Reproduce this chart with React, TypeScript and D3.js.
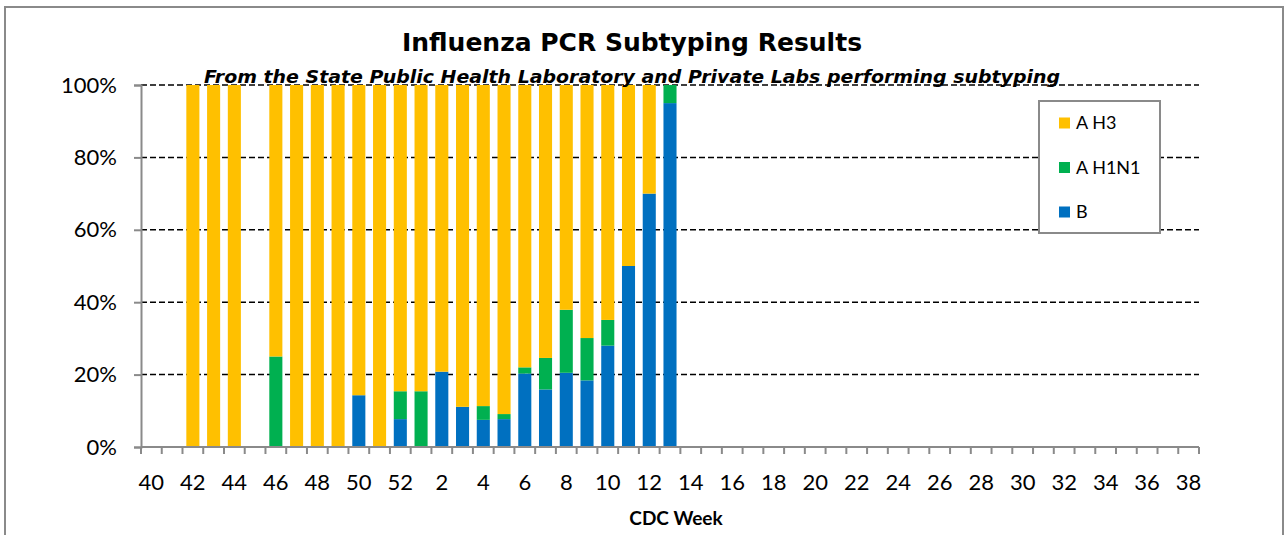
import React, { useEffect, useRef } from 'react';
import * as d3 from 'd3';

// CDC weeks shown on the x axis (season runs week 40 through week 38)
const weeks = [
  '40', '41', '42', '43', '44', '45', '46', '47', '48', '49', '50', '51', '52',
  '1', '2', '3', '4', '5', '6', '7', '8', '9', '10', '11', '12', '13', '14', '15',
  '16', '17', '18', '19', '20', '21', '22', '23', '24', '25', '26', '27', '28',
  '29', '30', '31', '32', '33', '34', '35', '36', '37', '38'
];

// only every other week gets a label
const weekLabels = [
  '40', '42', '44', '46', '48', '50', '52', '2', '4', '6', '8', '10', '12', '14',
  '16', '18', '20', '22', '24', '26', '28', '30', '32', '34', '36', '38'
];

// percent of subtyped specimens, weeks 40..13 (later weeks have no data yet)
const pctB = [
  0, 0, 0, 0, 0, 0, 0, 0, 0, 0, 14.3, 0, 7.7,
  0, 20.8, 11.1, 7.5, 7.7, 20.3, 15.9, 20.5, 18.4, 28, 50, 70, 95
];
const pctH1N1 = [
  0, 0, 0, 0, 0, 0, 25, 0, 0, 0, 0, 0, 7.7,
  15.4, 0, 0, 3.8, 1.4, 1.7, 8.7, 17.4, 11.7, 7.1, 0, 0, 5
];
const pctH3 = [
  0, 0, 100, 100, 100, 0, 75, 100, 100, 100, 85.7, 100, 84.6,
  84.6, 79.2, 88.9, 88.7, 90.9, 78, 75.4, 62.1, 69.9, 64.9, 50, 30, 0
];

const yTicks = [0, 20, 40, 60, 80, 100];

const seriesKeys = ['B', 'A H1N1', 'A H3'];
const legendKeys = ['A H3', 'A H1N1', 'B'];
const colors = { 'A H3': '#FFC000', 'A H1N1': '#00B050', 'B': '#0070C0' };

export default function App() {
  const svgRef = useRef(null);

  const width = 1286;
  const height = 535;
  const margin = { top: 85, right: 87, bottom: 88, left: 141 };
  const innerWidth = width - margin.left - margin.right;
  const innerHeight = height - margin.top - margin.bottom;

  useEffect(() => {
    const svg = d3.select(svgRef.current);
    svg.selectAll('*').remove();

    // chart frame
    svg.append('rect')
      .attr('x', 5).attr('y', 7)
      .attr('width', 1278).attr('height', 540)
      .attr('fill', '#fff')
      .attr('stroke', '#8a8a8a')
      .attr('stroke-width', 2);

    svg.append('text')
      .attr('x', 632).attr('y', 51)
      .attr('text-anchor', 'middle')
      .style('font-family', 'DejaVu Sans')
      .style('font-weight', 'bold')
      .style('font-size', '25px')
      .text('Influenza PCR Subtyping Results');

    const g = svg.append('g')
      .attr('transform', `translate(${margin.left}, ${margin.top})`);

    const x = d3.scaleBand()
      .domain(weeks)
      .range([0, innerWidth])
      .paddingInner(0.37)
      .paddingOuter(0.185);

    const y = d3.scaleLinear()
      .domain([0, 100])
      .range([innerHeight, 0]);

    // dashed gridlines
    g.selectAll('.grid')
      .data(yTicks.filter(d => d > 0))
      .enter()
      .append('line')
      .attr('x1', 0).attr('x2', innerWidth)
      .attr('y1', d => y(d)).attr('y2', d => y(d))
      .attr('stroke', '#000')
      .attr('stroke-width', 1.5)
      .attr('stroke-dasharray', '6,3');

    // subtitle sits on top of the 100% gridline
    svg.append('text')
      .attr('x', 632).attr('y', 83)
      .attr('text-anchor', 'middle')
      .attr('textLength', 856)
      .attr('lengthAdjust', 'spacingAndGlyphs')
      .style('font-family', 'DejaVu Sans')
      .style('font-weight', 'bold')
      .style('font-style', 'italic')
      .style('font-size', '17px')
      .text('From the State Public Health Laboratory and Private Labs performing subtyping');

    // stacked bars
    const table = weeks.map((w, i) => ({
      week: w,
      'B': pctB[i] || 0,
      'A H1N1': pctH1N1[i] || 0,
      'A H3': pctH3[i] || 0
    }));
    const stacked = d3.stack().keys(seriesKeys)(table);

    g.append('g')
      .selectAll('g')
      .data(stacked)
      .enter()
      .append('g')
      .attr('fill', d => colors[d.key])
      .selectAll('rect')
      .data(d => d.filter(p => p[1] - p[0] > 0))
      .enter()
      .append('rect')
      .attr('x', d => x(d.data.week))
      .attr('y', d => y(d[1]))
      .attr('width', x.bandwidth())
      .attr('height', d => y(d[0]) - y(d[1]));

    // y axis
    const yAxisG = g.append('g')
      .call(d3.axisLeft(y).tickValues(yTicks).tickFormat(d => d + '%').tickSize(7).tickPadding(17));
    yAxisG.select('.domain').attr('stroke', '#8a8a8a').attr('stroke-width', 2);
    yAxisG.selectAll('.tick line').attr('stroke', '#8a8a8a').attr('stroke-width', 2);
    yAxisG.selectAll('.tick text')
      .attr('fill', '#000')
      .style('font-family', 'Lato')
      .style('font-size', '22px');

    // x axis: tick marks at category boundaries
    const step = x.step();
    const edge = (step - x.bandwidth()) / 2;
    const xAxisG = g.append('g').attr('transform', `translate(0, ${innerHeight})`);
    xAxisG.append('line')
      .attr('x1', 0).attr('x2', innerWidth)
      .attr('stroke', '#8a8a8a').attr('stroke-width', 2);
    xAxisG.selectAll('.xtick')
      .data(weeks.concat(['end']))
      .enter()
      .append('line')
      .attr('x1', (d, i) => i < weeks.length ? x(d) - edge : x(weeks[weeks.length - 1]) + x.bandwidth() + edge)
      .attr('x2', (d, i) => i < weeks.length ? x(d) - edge : x(weeks[weeks.length - 1]) + x.bandwidth() + edge)
      .attr('y1', 0).attr('y2', 7)
      .attr('stroke', '#8a8a8a').attr('stroke-width', 2);
    xAxisG.selectAll('.xlabel')
      .data(weekLabels)
      .enter()
      .append('text')
      .attr('x', d => x(d) + x.bandwidth() / 2)
      .attr('y', 43)
      .attr('text-anchor', 'middle')
      .style('font-family', 'Lato')
      .style('font-size', '22px')
      .text(d => d);

    xAxisG.append('text')
      .attr('x', innerWidth / 2 + 6)
      .attr('y', 78)
      .attr('text-anchor', 'middle')
      .style('font-family', 'Lato')
      .style('font-weight', 'bold')
      .style('font-size', '19px')
      .text('CDC Week');

    // legend
    const legend = svg.append('g').attr('transform', 'translate(1039, 101)');
    legend.append('rect')
      .attr('width', 121).attr('height', 132)
      .attr('fill', '#fff')
      .attr('stroke', '#8a8a8a')
      .attr('stroke-width', 2);
    legendKeys.forEach((k, i) => {
      const ly = 22 + i * 44.5;
      legend.append('rect')
        .attr('x', 20).attr('y', ly - 5.5)
        .attr('width', 11).attr('height', 11)
        .attr('fill', colors[k]);
      legend.append('text')
        .attr('x', 37).attr('y', ly)
        .attr('dy', '0.36em')
        .style('font-family', 'Lato')
        .style('font-size', '18px')
        .text(k);
    });
  }, []);

  return (
    <div style={{ position: 'absolute', left: 0, top: 0 }}>
      <svg ref={svgRef} width={width} height={height} style={{ display: 'block' }}></svg>
    </div>
  );
}
